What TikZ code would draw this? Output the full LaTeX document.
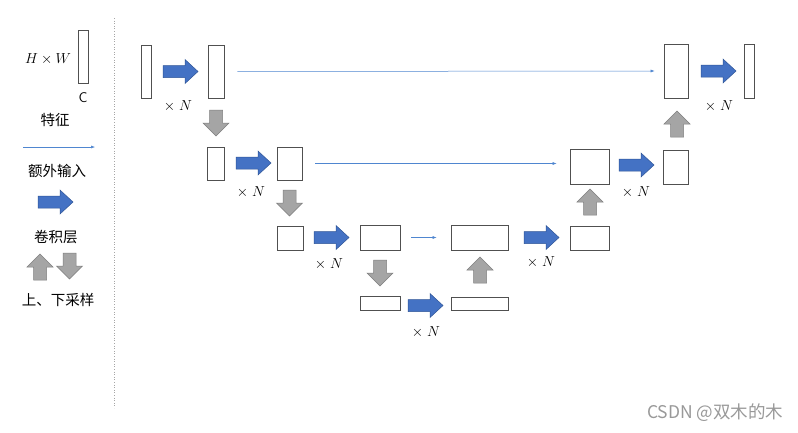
\RequirePackage{fix-cm}
\documentclass[tikz,border=0pt]{standalone}
\usepackage{fontspec}
\newfontfamily\cjk{Noto Sans CJK SC}
\usetikzlibrary{arrows.meta}
\definecolor{bfill}{HTML}{4472C4}
\definecolor{bdraw}{HTML}{2F5597}
\definecolor{gfill}{HTML}{A5A5A5}
\definecolor{gdraw}{HTML}{7F7F7F}
\definecolor{lblue}{HTML}{4F86D0}
\definecolor{boxc}{HTML}{505050}
\tikzset{
  box/.style={draw=boxc, line width=0.8pt, fill=white, inner sep=0pt},
  extra/.style={draw=lblue, line width=0.5pt, -{Latex[length=4pt,width=3pt]}},
  lab/.style={font=\fontsize{14.5}{16}\selectfont, inner sep=0pt},
  cjklab/.style={font=\cjk\fontsize{14.5}{16}\selectfont, inner sep=0pt},
  barrow/.pic={\filldraw[fill=bfill, draw=bdraw, line width=0.5pt]
    (0,-6)--(22,-6)--(22,-12)--(35,0)--(22,12)--(22,6)--(0,6)--cycle;},
  gdown/.pic={\filldraw[fill=gfill, draw=gdraw, line width=0.5pt]
    (-6.5,0)--(6.5,0)--(6.5,13)--(13,13)--(0,26)--(-13,13)--(-6.5,13)--cycle;},
  gup/.pic={\filldraw[fill=gfill, draw=gdraw, line width=0.5pt]
    (-6.5,0)--(6.5,0)--(6.5,-13)--(13,-13)--(0,-26)--(-13,-13)--(-6.5,-13)--cycle;},
}
\begin{document}
\begin{tikzpicture}[x=1pt,y=-1pt]
\useasboundingbox[fill=white] (0,0) rectangle (798,432);
% legend
\node[lab] (hw) at (48,59) {$H\times W$};
\node[box, minimum width=10pt, minimum height=53pt] (L) at (83,56.5) {};
\node[lab, font=\sffamily\fontsize{14}{16}\selectfont] (c) at (83,98) {C};
\node[cjklab] (t1) at (55,120) {特征};
\coordinate (la) at (23,147);
\coordinate (lb) at (95,147);
\draw[extra] (la) -- (lb);
\node[cjklab] (t2) at (57,171) {额外输入};
\pic (lbar) at (38,202) {barrow};
\node[cjklab] (t3) at (56,237) {卷积层};
\pic (lup) at (40,280) {gup};
\pic (ldn) at (69.5,253) {gdown};
\node[cjklab] (t4) at (58,300) {上、下采样};
\coordinate (sa) at (114,18);
\coordinate (sb) at (114,408);
\draw[gray!70, line width=0.6pt, dotted] (sa) -- (sb);
% boxes
\node[box, minimum width=10pt, minimum height=53pt] (A1) at (146,71.5) {};
\node[box, minimum width=16pt, minimum height=53pt] (A2) at (216,71.5) {};
\node[box, minimum width=24pt, minimum height=54pt] (A3) at (676,71) {};
\node[box, minimum width=10pt, minimum height=54pt] (A4) at (749,71) {};
\node[box, minimum width=17pt, minimum height=33pt] (B1) at (215.5,163.5) {};
\node[box, minimum width=25pt, minimum height=33pt] (B2) at (289.5,163.5) {};
\node[box, minimum width=39pt, minimum height=35pt] (B3) at (589.5,166.5) {};
\node[box, minimum width=25pt, minimum height=34pt] (B4) at (675.5,167) {};
\node[box, minimum width=26pt, minimum height=24pt] (C1) at (290,238) {};
\node[box, minimum width=40pt, minimum height=25pt] (C2) at (380,237.5) {};
\node[box, minimum width=57pt, minimum height=25pt] (C3) at (479.5,237.5) {};
\node[box, minimum width=39pt, minimum height=24pt] (C4) at (589.5,238) {};
\node[box, minimum width=40pt, minimum height=14pt] (D1) at (380,303) {};
\node[box, minimum width=57pt, minimum height=13pt] (D2) at (479.5,303.5) {};
% convolution arrows
\pic (pa) at (163,71.5) {barrow};
\pic (pa2) at (701,71) {barrow};
\pic (pb) at (236,163) {barrow};
\pic (pb2) at (619,165) {barrow};
\pic (pc) at (314,237.5) {barrow};
\pic (pc2) at (524,237.5) {barrow};
\pic (pd) at (408,305.5) {barrow};
% sampling arrows
\pic (d1) at (216,110) {gdown};
\pic (d2) at (289.5,190) {gdown};
\pic (d3) at (380,260) {gdown};
\pic (u1) at (480,283) {gup};
\pic (u2) at (590,215) {gup};
\pic (u3) at (677,137) {gup};
% skip connections
\draw[extra, shorten <=13pt, shorten >=9pt] (A2.east) -- (A3.west);
\draw[extra, shorten <=13pt, shorten >=13pt] (B2.east) -- (B3.west |- B2.east);
\draw[extra, shorten <=11pt, shorten >=14pt] (C2.east) -- (C3.west);
% xN labels
\node[lab] (n1) at (178,106) {$\times\;N$};
\node[lab] (n2) at (251,192) {$\times\;N$};
\node[lab] (n3) at (329,264) {$\times\;N$};
\node[lab] (n4) at (426,332) {$\times\;N$};
\node[lab] (n5) at (541,262) {$\times\;N$};
\node[lab] (n6) at (636,192) {$\times\;N$};
\node[lab] (n7) at (719,106) {$\times\;N$};
% watermark
\node[font=\cjk\fontsize{17.5}{19}\selectfont, text=gray!80, inner sep=0pt, anchor=west] (wm) at (647,413) {CSDN @双木的木};
\end{tikzpicture}
\end{document}
